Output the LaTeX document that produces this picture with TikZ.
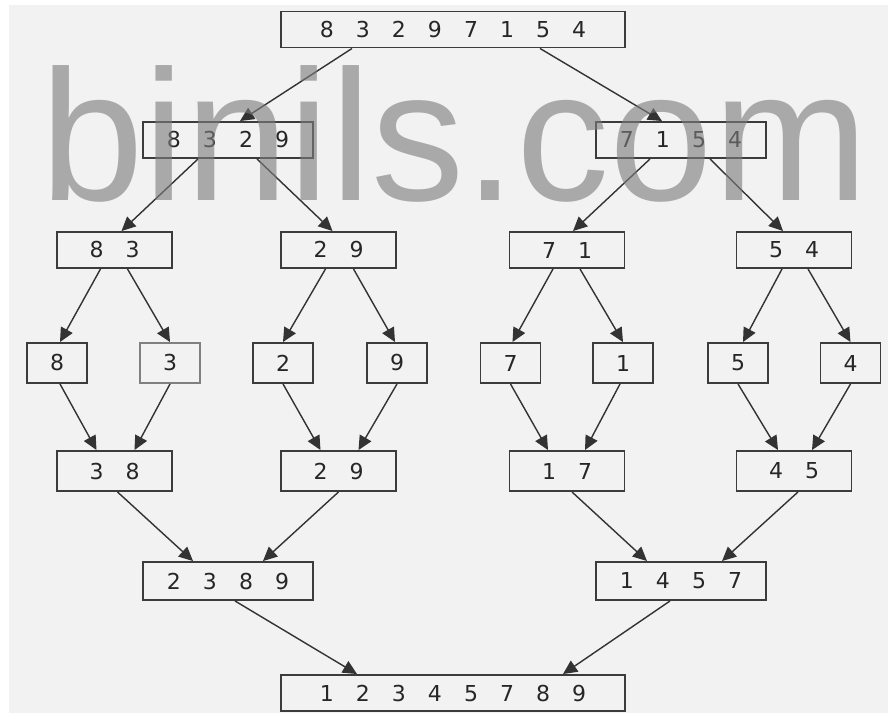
\documentclass[tikz,border=0pt]{standalone}
\usepackage{fontspec}
\setmainfont{DejaVu Sans}
\newfontfamily\markfont{Liberation Sans}
\usetikzlibrary{arrows.meta,calc}

\definecolor{bggray}{HTML}{F2F2F2}
\definecolor{boxgray}{HTML}{3C3C3C}
\definecolor{markgray}{HTML}{7D7D7D}

\newcommand{\nums}[1]{\foreach \dg in {#1}{\makebox[20.5pt]{\dg}}}

\begin{document}
\begin{tikzpicture}[x=0.02cm, y=-0.02cm,
    box/.style={draw=boxgray, line width=1.1pt, inner sep=0pt, text=black!85,
        font=\fontsize{12.5}{13}\selectfont, minimum height=0.72cm},
    eight/.style={box, minimum width=6.88cm},
    four/.style={box, minimum width=3.4cm},
    two/.style={box, minimum width=2.3cm},
    one/.style={box, minimum width=1.2cm, minimum height=0.8cm},
    arr/.style={draw=black!80, line width=0.8pt, -{Triangle[length=8pt,width=7.5pt]}}]

    \useasboundingbox (0,0) rectangle (888,713);
    \fill[white] (0,0) rectangle (888,713);
    \fill[bggray] (9,5) rectangle (888,713);

    \node[eight] (top) at (453,29.5) {\nums{8,3,2,9,7,1,5,4}};

    \node[four] (l) at (228,140) {\nums{8,3,2,9}};
    \node[four] (r) at (681,140) {\nums{7,1,5,4}};

    \node[two] (ll) at (114.5,250) {\nums{8,3}};
    \node[two] (lr) at (338.5,250) {\nums{2,9}};
    \node[two] (rl) at (567,250) {\nums{7,1}};
    \node[two] (rr) at (794,250) {\nums{5,4}};

    \node[one] (s8) at (57,363) {8};
    \node[one, draw=gray] (s3) at (170,363) {3};
    \node[one] (s2) at (283,363) {2};
    \node[one] (s9) at (397,363) {9};
    \node[one] (s7) at (510.5,363) {7};
    \node[one] (s1) at (623,363) {1};
    \node[one] (s5) at (738,363) {5};
    \node[one] (s4) at (850.5,363) {4};

    \node[two, minimum height=0.8cm] (m38) at (114.5,471) {\nums{3,8}};
    \node[two, minimum height=0.8cm] (m29) at (338.5,471) {\nums{2,9}};
    \node[two, minimum height=0.8cm] (m17) at (567,471) {\nums{1,7}};
    \node[two, minimum height=0.8cm] (m45) at (794,471) {\nums{4,5}};

    \node[four, minimum height=0.76cm] (ml) at (228,581) {\nums{2,3,8,9}};
    \node[four, minimum height=0.76cm] (mr) at (681,581) {\nums{1,4,5,7}};

    \node[eight] (res) at (453,693) {\nums{1,2,3,4,5,7,8,9}};

    % splitting
    \draw[arr] ($(top.south)+(-101,0)$) -- ($(l.north)+(12,0)$);
    \draw[arr] ($(top.south)+(87,0)$) -- ($(r.north)+(-19,0)$);
    \draw[arr] ($(l.south)+(-30,0)$) -- ($(ll.north)+(7,0)$);
    \draw[arr] ($(l.south)+(29,0)$) -- ($(lr.north)+(-6,0)$);
    \draw[arr] ($(r.south)+(-31,0)$) -- ($(rl.north)+(6,0)$);
    \draw[arr] ($(r.south)+(29,0)$) -- ($(rr.north)+(-11,0)$);

    \draw[arr] ($(ll.south)+(-14,0)$) -- ($(s8.north)+(3,0)$);
    \draw[arr] ($(ll.south)+(13,0)$) -- (s3.north);
    \draw[arr] ($(lr.south)+(-13,0)$) -- (s2.north);
    \draw[arr] ($(lr.south)+(15,0)$) -- ($(s9.north)+(-2,0)$);
    \draw[arr] ($(rl.south)+(-14,0)$) -- ($(s7.north)+(2,0)$);
    \draw[arr] ($(rl.south)+(13,0)$) -- (s1.north);
    \draw[arr] ($(rr.south)+(-12,0)$) -- ($(s5.north)+(5,0)$);
    \draw[arr] ($(rr.south)+(14,0)$) -- (s4.north);

    % merging
    \draw[arr] ($(s8.south)+(3,0)$) -- ($(m38.north)+(-18,0)$);
    \draw[arr] (s3.south) -- ($(m38.north)+(20,0)$);
    \draw[arr] (s2.south) -- ($(m29.north)+(-18,0)$);
    \draw[arr] (s9.south) -- ($(m29.north)+(20,0)$);
    \draw[arr] (s7.south) -- ($(m17.north)+(-19,0)$);
    \draw[arr] ($(s1.south)+(-3,0)$) -- ($(m17.north)+(18,0)$);
    \draw[arr] (s5.south) -- ($(m45.north)+(-16,0)$);
    \draw[arr] (s4.south) -- ($(m45.north)+(18,0)$);

    \draw[arr] ($(m38.south)+(3,0)$) -- ($(ml.north)+(-35,0)$);
    \draw[arr] (m29.south) -- ($(ml.north)+(35,0)$);
    \draw[arr] ($(m17.south)+(5,0)$) -- ($(mr.north)+(-34,0)$);
    \draw[arr] ($(m45.south)+(4,0)$) -- ($(mr.north)+(41,0)$);

    \draw[arr] ($(ml.south)+(7,0)$) -- ($(res.north)+(-96,0)$);
    \draw[arr] ($(mr.south)+(-11,0)$) -- ($(res.north)+(110,0)$);

    \node[anchor=base west, inner sep=0pt, text=markgray, text opacity=0.62,
        font=\fontsize{106}{106}\selectfont\markfont] (mark) at (40,200) {binils.com};

\end{tikzpicture}
\end{document}
